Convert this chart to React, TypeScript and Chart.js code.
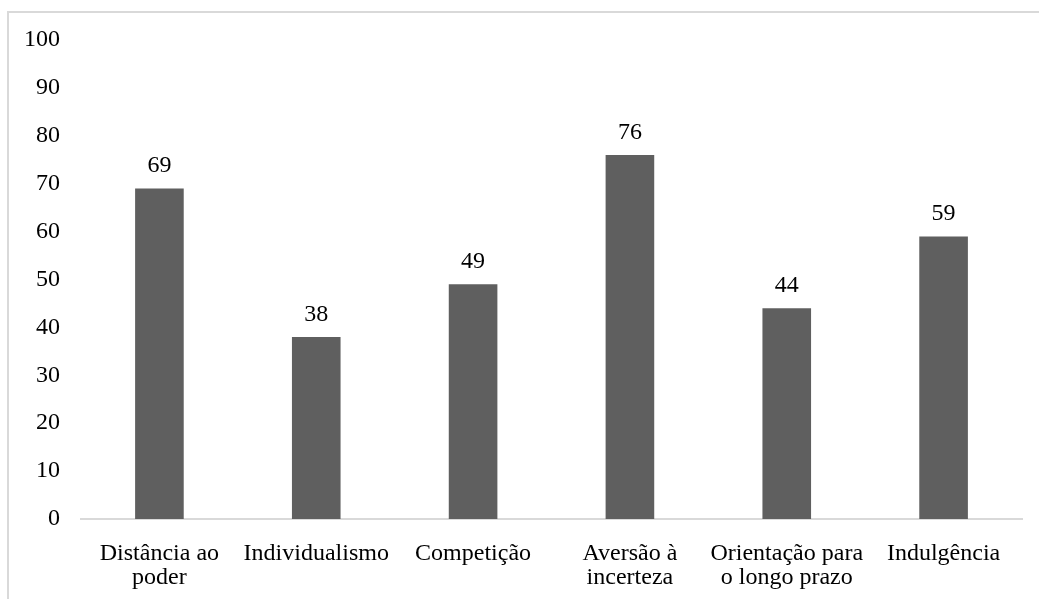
import React, { useEffect, useRef } from "react";
import { Chart, registerables } from "chart.js";

Chart.register(...registerables);

const categories: string[][] = [
  ["Distância ao", "poder"],
  ["Individualismo"],
  ["Competição"],
  ["Aversão à", "incerteza"],
  ["Orientação para", "o longo prazo"],
  ["Indulgência"],
];
const values: number[] = [69, 38, 49, 76, 44, 59];
const yTicks: number[] = [0, 10, 20, 30, 40, 50, 60, 70, 80, 90, 100];

const FONT = "'Liberation Serif', 'Times New Roman', serif";

const valueLabels = {
  id: "valueLabels",
  afterDatasetsDraw(chart: any) {
    const ctx = chart.ctx;
    const meta = chart.getDatasetMeta(0);
    ctx.save();
    ctx.font = `24px ${FONT}`;
    ctx.fillStyle = "#000";
    ctx.textAlign = "center";
    ctx.textBaseline = "alphabetic";
    meta.data.forEach((bar: any, i: number) => {
      ctx.fillText(String(values[i]), bar.x, bar.y - 16);
    });
    ctx.restore();
  },
};

export default function App() {
  const ref = useRef<HTMLCanvasElement>(null);
  useEffect(() => {
    if (!ref.current) return;
    const chart = new Chart(ref.current, {
      type: "bar",
      data: {
        labels: categories,
        datasets: [
          {
            data: values,
            backgroundColor: "#5f5f5f",
            categoryPercentage: 1,
            barPercentage: 0.31,
          },
        ],
      },
      options: {
        animation: false,
        responsive: false,
        maintainAspectRatio: false,
        layout: { padding: { left: 0, right: 17, top: 40, bottom: 0 } },
        plugins: { legend: { display: false }, tooltip: { enabled: false } },
        scales: {
          x: {
            grid: { display: false, drawTicks: false },
            border: { display: true, color: "#d9d9d9", width: 2 },
            ticks: {
              color: "#000",
              font: { family: FONT, size: 24, lineHeight: 1.0 },
              padding: 23,
              maxRotation: 0,
              autoSkip: false,
            },
            afterFit: (s: any) => {
              s.height = 80;
            },
          },
          y: {
            min: 0,
            max: 100,
            afterBuildTicks: (s: any) => {
              s.ticks = yTicks.map((v) => ({ value: v }));
            },
            grid: { display: false, drawTicks: false },
            border: { display: false },
            ticks: {
              color: "#000",
              font: { family: FONT, size: 24 },
              padding: 21,
            },
            afterFit: (s: any) => {
              s.width = 81;
            },
          },
        },
      },
      plugins: [valueLabels],
    });
    return () => chart.destroy();
  }, []);

  return (
    <div
      style={{
        position: "absolute",
        left: 0,
        top: 0,
        width: 1039,
        height: 599,
        background: "#fff",
        overflow: "hidden",
      }}
    >
      <div
        style={{
          position: "absolute",
          left: 7,
          top: 11,
          width: 1100,
          height: 700,
          borderLeft: "2px solid #d9d9d9",
          borderTop: "2px solid #d9d9d9",
        }}
      />
      <canvas
        ref={ref}
        width={1039}
        height={599}
        style={{ position: "absolute", left: 0, top: 0 }}
      />
    </div>
  );
}
